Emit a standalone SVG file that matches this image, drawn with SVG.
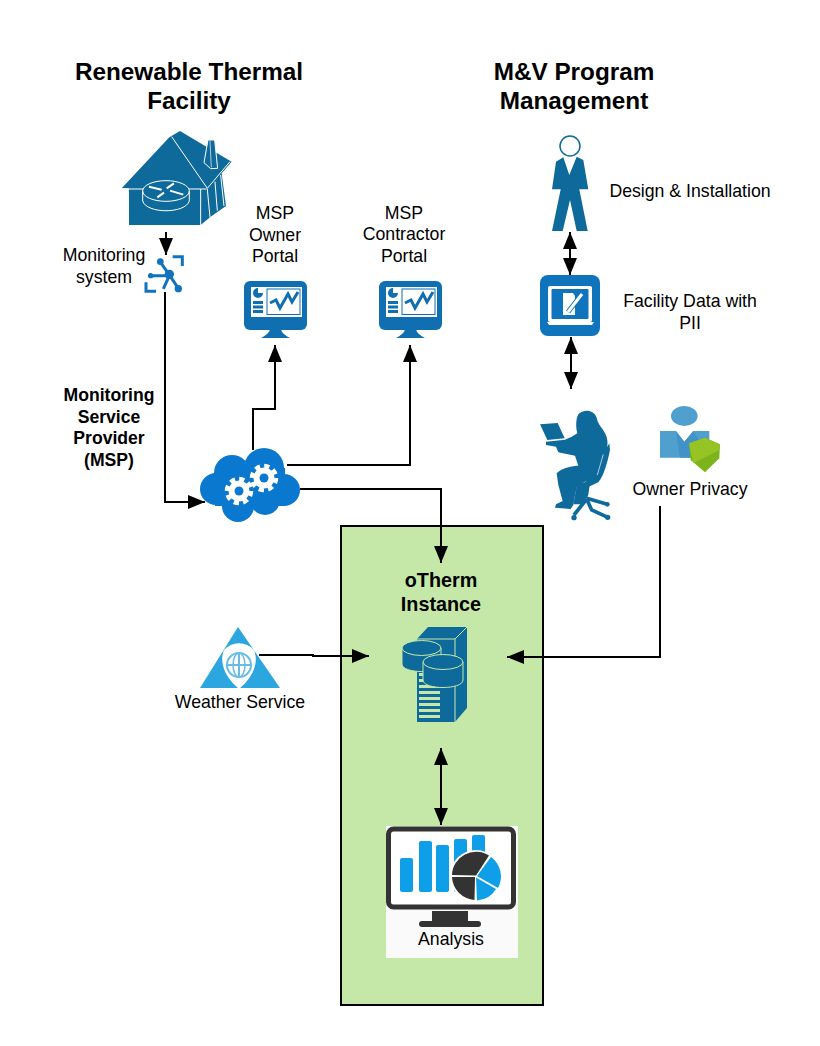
<svg xmlns="http://www.w3.org/2000/svg" xmlns:xlink="http://www.w3.org/1999/xlink" width="820" height="1046" viewBox="0 0 820 1046">
<style>
text{font-family:"Liberation Sans",Arial,sans-serif;fill:#000;text-anchor:middle}
.t{font-size:24.3px;font-weight:700}
.l{font-size:17.7px}
.b{font-size:17.6px;font-weight:700}
.o{font-size:19.8px;font-weight:700}
.c{fill:none;stroke:#000;stroke-width:2}
.teal{fill:#0e6a9b}
</style>
<defs>
<marker id="a" markerUnits="userSpaceOnUse" markerWidth="18" markerHeight="16" refX="17" refY="8" orient="auto-start-reverse"><path d="M0,1L17,8L0,15Z" fill="#000"/></marker>
<g id="mon">
<rect x="0" y="0" width="63" height="49" rx="6" fill="#0f6fb0"/>
<path d="M26,47H37C37,52 41,54 46,57H17C22,54 26,52 26,47Z" fill="#0f6fb0"/>
<rect x="7" y="6" width="51" height="30" fill="#fff"/>
<rect x="23" y="8" width="33" height="25.500" fill="#fff" stroke="#0f6fb0" stroke-width="1"/>
<path d="M14,12V7a5,5 0 1 0 5,5z" fill="#0f6fb0"/>
<path d="M9,21.500H19M9,26H19M9,30.500H19" stroke="#0f6fb0" stroke-width="3" fill="none"/>
<path d="M26,22L32,19L36,27L44,13L48,21L54,11" fill="none" stroke="#0f6fb0" stroke-width="3"/>
</g>
</defs>

<g id="otherm-container"><rect x="341" y="526" width="202" height="479" fill="#c5e8a9" stroke="#000" stroke-width="2"/></g>

<g id="title-facility"><text class="t" x="189" y="80">Renewable Thermal</text><text class="t" x="189" y="109">Facility</text></g>
<g id="title-mv"><text class="t" x="574" y="80">M&amp;V Program</text><text class="t" x="574" y="109">Management</text></g>

<g id="facility-house"><g transform="translate(50,120) scale(.3333)">
<path class="teal" d="M215,205L358,52L390,33L545,125L515,160L528,258L482,290L452,315H237V205Z"/>
<path d="M365,50L472,205L540,125M215,207H280M415,207H470M452,207V315M472,207L480,292M495,185L502,272M512,165L522,258" fill="none" stroke="#fff" stroke-width="3"/>
<path class="teal" d="M462,128L474,60H494L503,145L482,146Z" stroke="#fff" stroke-width="3"/>
<path d="M480,62L484,142" stroke="#fff" stroke-width="2"/>
<ellipse cx="348" cy="213" rx="70" ry="31" fill="#0e6a9b" stroke="#fff" stroke-width="3"/>
<path d="M278,213V243C290,282 406,282 418,243V213" fill="none" stroke="#fff" stroke-width="3"/>
<path d="M297,200L335,209M372,190L350,205M322,232L342,218M400,224L360,212" stroke="#fff" stroke-width="6" fill="none"/>
</g></g>

<g id="monitoring-system"><g transform="translate(50,120) scale(.3333)">
<path d="M368,410H397V438M318,514H288V487" fill="none" stroke="#1173bd" stroke-width="9"/>
<path d="M330,425L358,465L385,505M302,467H358L340,507" fill="none" stroke="#1173bd" stroke-width="9"/>
<circle cx="331" cy="425" r="10" fill="#1173bd"/><circle cx="302" cy="467" r="8" fill="#1173bd"/><circle cx="358" cy="463" r="14" fill="#1173bd"/><circle cx="385" cy="506" r="11" fill="#1173bd"/>
</g><text class="l" x="104" y="261">Monitoring</text><text class="l" x="104" y="283">system</text></g>

<g id="msp-owner-portal"><use xlink:href="#mon" href="#mon" x="244" y="281"/><text class="l" x="275" y="219">MSP</text><text class="l" x="275" y="241">Owner</text><text class="l" x="275" y="262">Portal</text></g>
<g id="msp-contractor-portal"><use xlink:href="#mon" href="#mon" x="379" y="281"/><text class="l" x="404" y="218.500">MSP</text><text class="l" x="404" y="240">Contractor</text><text class="l" x="404" y="261.500">Portal</text></g>

<g id="design-installation">
<circle cx="570" cy="146" r="10" fill="#fff" stroke="#0e6a9b" stroke-width="1.500"/>
<path class="teal" d="M563.300,157.300L569.300,175L576.700,156.700L583.300,160L588.300,189.300H579.300L587.700,231H576.700L570,200L562.700,231H552L560.700,189.300H552L556,161.700Z"/>
<text class="l" x="690" y="197">Design &amp; Installation</text></g>

<g id="facility-data">
<rect x="540" y="275" width="60" height="61" rx="8" fill="#0f74bb"/>
<rect x="548" y="286" width="44" height="36" rx="2" fill="#fff"/>
<rect x="551.500" y="289" width="37" height="30" rx="1" fill="#0f74bb"/>
<path d="M547,322H594L592,325H549Z" fill="#fff"/>
<path d="M563,293H573L575,296V315H563Z" fill="#fff"/>
<path d="M568,312L582,294" stroke="#0f74bb" stroke-width="5"/>
<path d="M568,312L582,294" stroke="#fff" stroke-width="3"/>
<text class="l" x="690" y="307">Facility Data with</text><text class="l" x="690" y="329">PII</text></g>

<g id="analyst"><g transform="translate(520,395) scale(.3333)">
<path class="teal" d="M60,88L113,84L134,130L82,135Z"/>
<path class="teal" d="M172,115C165,90 170,60 178,55C195,42 222,45 230,68C235,95 258,105 262,135C265,160 255,195 245,215L232,250L190,262L172,270L165,300L160,330L152,342L105,338L108,328L128,318L115,270L110,235C125,218 160,212 175,212L165,182L115,172L108,155L78,150V140L135,134L155,125Z"/>
<path class="teal" d="M172,262L210,262L205,300L185,328L160,328Z"/>
<path class="teal" d="M250,175L268,145L270,165C262,205 250,245 235,262L200,278L195,262L225,240Z"/>
<path d="M197,270V310M200,310L262,328M200,312L162,360M200,312L215,345L265,368" fill="none" stroke="#0e6a9b" stroke-width="11"/>
<circle cx="162" cy="368" r="8" fill="#0e6a9b"/><circle cx="263" cy="367" r="8" fill="#0e6a9b"/><circle cx="262" cy="328" r="7" fill="#0e6a9b"/>
<path d="M250,178L232,240" stroke="#fff" stroke-width="2"/>
</g></g>

<g id="owner-privacy"><g transform="translate(520,395) scale(.3333)">
<ellipse cx="493" cy="63" rx="40" ry="30" fill="#4f9fcf"/>
<path d="M420,108H468L493,140L520,108H568V188H420Z" fill="#4f9fcf"/>
<path d="M468,108L493,140L520,108L568,188H480Z" fill="#3a8dc3" opacity=".7"/>
<path d="M507,145L555,128L600,148L598,190L555,232L512,195Z" fill="#7db41c"/>
<path d="M555,128L600,148L598,165L520,205L507,145Z" fill="#95c424"/>
</g><text class="l" x="690" y="495">Owner Privacy</text></g>

<g id="msp-cloud">
<g fill="#0b78cf"><circle cx="216" cy="489" r="16"/><circle cx="232" cy="473" r="18"/><circle cx="264" cy="468" r="20"/><circle cx="284" cy="490" r="16"/><circle cx="238" cy="506" r="16"/><circle cx="265" cy="500" r="15"/><rect x="215" y="468" width="70" height="38"/></g>
<g id="gears" fill="#fff">
<circle cx="239" cy="491" r="10.500"/><circle cx="239" cy="491" r="12" fill="none" stroke="#fff" stroke-width="4.500" stroke-dasharray="5.200 4.200"/><circle cx="239" cy="491" r="4.500" fill="#0b78cf"/>
<circle cx="264" cy="478" r="10.500"/><circle cx="264" cy="478" r="12" fill="none" stroke="#fff" stroke-width="4.500" stroke-dasharray="5.200 4.200"/><circle cx="264" cy="478" r="4.500" fill="#0b78cf"/>
</g>
</g>

<g id="otherm-label"><text class="o" x="441" y="587">oTherm</text><text class="o" x="441" y="611">Instance</text></g>

<g id="weather-service">
<path d="M238,627L280,688H200Z" fill="#2ba6df"/>
<path d="M224,650A20,20 0 0 1 254,650C260,665 250,680 239,689C228,680 218,665 224,650Z" fill="#fff"/>
<circle cx="239" cy="665" r="12" fill="#fff" stroke="#67bce6" stroke-width="2"/>
<path d="M239,653V677M227,665H251" stroke="#67bce6" stroke-width="2"/>
<ellipse cx="239" cy="665" rx="6" ry="12" fill="none" stroke="#67bce6" stroke-width="1.500"/>
<text class="l" x="240" y="708">Weather Service</text></g>

<g id="database-server">
<path class="teal" d="M417,639L428,627H467V708L455,722H417Z"/>
<path d="M417,639H455L467,627M455,639V722" fill="none" stroke="#c5e8a9" stroke-width="1"/>
<g fill="#c5e8a9"><rect x="419" y="673" width="4" height="3"/><rect x="419" y="679" width="21" height="3"/><rect x="419" y="685" width="21" height="3"/><rect x="419" y="691" width="21" height="3"/><rect x="419" y="697" width="21" height="3"/><rect x="419" y="703" width="21" height="3"/><rect x="419" y="709" width="21" height="3"/><rect x="419" y="715" width="21" height="3"/></g>
<path class="teal" d="M402,648V664C402,674 441,674 441,664V648Z" stroke="#c5e8a9" stroke-width="1"/>
<ellipse cx="421.500" cy="648" rx="19.500" ry="7.500" fill="#0e6a9b" stroke="#c5e8a9" stroke-width="1"/>
<path class="teal" d="M423,662V680C423,690 463,690 463,680V662Z" stroke="#c5e8a9" stroke-width="1"/>
<ellipse cx="443" cy="662" rx="20" ry="7.500" fill="#0e6a9b" stroke="#c5e8a9" stroke-width="1"/>
</g>

<g id="analysis">
<rect x="386" y="826" width="132" height="132" fill="#fafafa"/>
<rect x="388.500" y="829" width="125" height="78" rx="5" fill="#fff" stroke="#333" stroke-width="5"/>
<rect x="432" y="911" width="36" height="10" fill="#333"/>
<rect x="419" y="921" width="62" height="6" rx="3" fill="#333"/>
<g fill="#0f9ee8"><rect x="400" y="858" width="13" height="34" rx="2"/><rect x="419" y="841" width="13" height="51" rx="2"/><rect x="436" y="845" width="13" height="47" rx="2"/><rect x="454" y="839" width="13" height="53" rx="2"/><rect x="472" y="835" width="13" height="57" rx="2"/></g>
<circle cx="476" cy="876" r="26" fill="#fff"/>
<path d="M476,875.500L452,875A24,24 0 0 1 489,855.500Z" fill="#333"/>
<path d="M477,876L491,857A24,24 0 0 1 498,888Z" fill="#0f9ee8"/>
<path d="M476,877.500L496,889A24,24 0 0 1 477,900.500Z" fill="#0f9ee8"/>
<path d="M475,877L474.500,900A24,24 0 0 1 452,877Z" fill="#333"/>
<text class="l" x="451" y="945">Analysis</text></g>

<g id="connectors">
<path class="c" d="M166,232V255" marker-end="url(#a)"/>
<path class="c" d="M165,292V502H205" marker-end="url(#a)"/>
<path class="c" d="M253,450V409H275V345" marker-end="url(#a)"/>
<path class="c" d="M287,465H410V345" marker-end="url(#a)"/>
<path class="c" d="M300,489H441V563" marker-end="url(#a)"/>
<path class="c" d="M259,655H313V656H369" marker-end="url(#a)"/>
<path class="c" d="M660,506V657H507" marker-end="url(#a)"/>
<path class="c" d="M570,232V275" marker-start="url(#a)" marker-end="url(#a)"/>
<path class="c" d="M571,337V389" marker-start="url(#a)" marker-end="url(#a)"/>
<path class="c" d="M441,748V825" marker-start="url(#a)" marker-end="url(#a)"/>
</g>

<g id="msp-label"><text class="b" x="109" y="401">Monitoring</text><text class="b" x="109" y="423">Service</text><text class="b" x="109" y="444">Provider</text><text class="b" x="109" y="466">(MSP)</text></g>
</svg>
